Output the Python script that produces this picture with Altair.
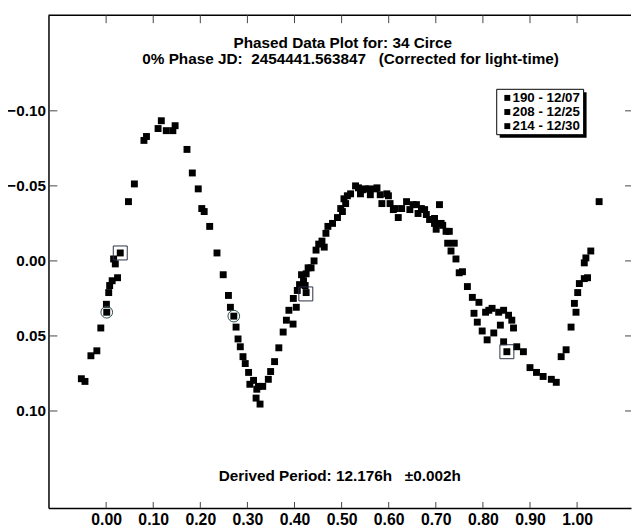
import altair as alt
import pandas as pd

# ---- data (phase, relative magnitude) ----
phase = [-0.0526, -0.0449, -0.0323, -0.0197, -0.0113, 0.0006, 0.0013, 0.0055, 0.0075, 0.0128,
         0.0243, 0.0195, 0.0159, 0.0300, 0.0474, 0.0600, 0.0803, 0.0857, 0.1103, 0.1172,
         0.1277, 0.1417, 0.1465, 0.1717, 0.1830, 0.1956, 0.2031, 0.2082, 0.2199, 0.2354,
         0.2486, 0.2597, 0.2639, 0.2711, 0.2759, 0.2801, 0.2849, 0.2906, 0.2954, 0.3025,
         0.3052, 0.3130, 0.3199, 0.3235, 0.3325, 0.3184, 0.3268, 0.3444, 0.3493, 0.3577,
         0.3667, 0.3759, 0.3828, 0.3969, 0.3881, 0.4038, 0.3975, 0.4059, 0.4107, 0.4191,
         0.4226, 0.4247, 0.4149, 0.4247, 0.4289, 0.4352, 0.4415, 0.4457, 0.4514, 0.4631,
         0.4583, 0.4667, 0.4709, 0.4807, 0.4912, 0.4981, 0.5017, 0.5050, 0.5086, 0.5122,
         0.5191, 0.5296, 0.5358, 0.5400, 0.5442, 0.5505, 0.5574, 0.5610, 0.5715, 0.5751,
         0.5820, 0.5855, 0.5960, 0.5994, 0.6029, 0.6099, 0.6134, 0.6203, 0.6275, 0.6379,
         0.6449, 0.6518, 0.6589, 0.6623, 0.6694, 0.6763, 0.6799, 0.6868, 0.6973, 0.7078,
         0.6973, 0.7008, 0.7113, 0.7147, 0.7218, 0.7287, 0.7252, 0.7392, 0.7323, 0.7428,
         0.7497, 0.7566, 0.7671, 0.7776, 0.7916, 0.7811, 0.7881, 0.7985, 0.8090, 0.8057,
         0.8126, 0.8195, 0.8335, 0.8440, 0.8545, 0.8614, 0.8650, 0.8371, 0.8231, 0.8440,
         0.8509, 0.8719, 0.8860, 0.9000, 0.9138, 0.9279, 0.9453, 0.9558, 0.9662, 0.9767,
         0.9872, 0.9977, 0.9943, 1.0013, 1.0048, 1.0153, 1.0222, 1.0153, 1.0187, 1.0291,
         1.0468]
mag = [0.0785, 0.0803, 0.0632, 0.0599, 0.0447, 0.0289, 0.0342, 0.0211, 0.0164, 0.0132,
       0.0112, 0.0020, -0.0013, -0.0053, -0.0395, -0.0513, -0.0803, -0.0829, -0.0882, -0.0934,
       -0.0868, -0.0868, -0.0901, -0.0743, -0.0586, -0.0480, -0.0349, -0.0329, -0.0230, -0.0053,
       0.0092, 0.0230, 0.0309, 0.0368, 0.0441, 0.0520, 0.0572, 0.0638, 0.0684, 0.0743,
       0.0822, 0.0796, 0.0855, 0.0836, 0.0836, 0.0914, 0.0954, 0.0789, 0.0737, 0.0671,
       0.0579, 0.0474, 0.0395, 0.0421, 0.0329, 0.0309, 0.0250, 0.0197, 0.0158, 0.0132,
       0.0164, 0.0211, 0.0092, 0.0086, 0.0046, 0.0046, 0.0000, -0.0072, -0.0112, -0.0092,
       -0.0132, -0.0184, -0.0230, -0.0250, -0.0289, -0.0349, -0.0329, -0.0414, -0.0382, -0.0434,
       -0.0447, -0.0500, -0.0487, -0.0447, -0.0474, -0.0480, -0.0480, -0.0441, -0.0480, -0.0487,
       -0.0441, -0.0382, -0.0447, -0.0434, -0.0382, -0.0342, -0.0349, -0.0289, -0.0349, -0.0395,
       -0.0342, -0.0375, -0.0375, -0.0316, -0.0349, -0.0342, -0.0309, -0.0276, -0.0283, -0.0375,
       -0.0250, -0.0211, -0.0250, -0.0237, -0.0197, -0.0197, -0.0118, -0.0118, -0.0066, -0.0013,
       0.0079, 0.0072, 0.0171, 0.0243, 0.0276, 0.0349, 0.0408, 0.0467, 0.0526, 0.0342,
       0.0329, 0.0316, 0.0342, 0.0329, 0.0362, 0.0395, 0.0447, 0.0428, 0.0480, 0.0539,
       0.0605, 0.0572, 0.0605, 0.0711, 0.0743, 0.0770, 0.0789, 0.0809, 0.0638, 0.0592,
       0.0441, 0.0342, 0.0283, 0.0211, 0.0151, 0.0118, 0.0112, 0.0013, -0.0020, -0.0066,
       -0.0395]

# highlighted (open) markers
circ_phase = [0.0013, 0.2711]
circ_mag = [0.0342, 0.0368]
sq_phase = [0.0300, 0.4240, 0.8509]
sq_mag = [-0.0053, 0.0220, 0.0605]

x_ticks = [0.0, 0.1, 0.2, 0.3, 0.4, 0.5, 0.6, 0.7, 0.8, 0.9, 1.0]
y_ticks = [-0.10, -0.05, 0.0, 0.05, 0.10]
legend_labels = ["190 - 12/07", "208 - 12/25", "214 - 12/30"]

title1 = "Phased Data Plot for: 34 Circe"
title2 = "0% Phase JD:\u00a0\u00a02454441.563847\u00a0\u00a0\u00a0(Corrected for light-time)"
period_text = "Derived Period: 12.176h\u00a0\u00a0\u00a0\u00b10.002h"

FONT = "Liberation Sans"
W, H = 590, 499

xs = alt.Scale(domain=[-0.1224, 1.1145], nice=False, zero=False)
ys = alt.Scale(domain=[-0.1637, 0.1646], reverse=True, nice=False, zero=False)

df = pd.DataFrame({"phase": phase, "mag": mag})
df_c = pd.DataFrame({"phase": circ_phase, "mag": circ_mag})
df_s = pd.DataFrame({"phase": sq_phase, "mag": sq_mag})
df_xt = pd.DataFrame({"phase": x_ticks})
df_yt = pd.DataFrame({"mag": y_ticks})

x_axis = alt.Axis(values=x_ticks, format=".2f", ticks=False, grid=False,
                  domainColor="black", domainWidth=1.5, labelFont=FONT,
                  labelFontSize=16, labelFontWeight="bold", labelColor="black",
                  labelPadding=4, labelOverlap=False, title=None)
y_axis = alt.Axis(values=y_ticks, format=".2f", ticks=False, grid=False,
                  domainColor="black", domainWidth=1.5, labelFont=FONT,
                  labelFontSize=15.5, labelFontWeight="bold", labelColor="black",
                  labelPadding=3, labelOverlap=False, title=None)

X = alt.X("phase:Q", scale=xs, axis=x_axis)
Y = alt.Y("mag:Q", scale=ys, axis=y_axis)

points = alt.Chart(df).mark_square(size=49, color="black", opacity=1).encode(x=X, y=Y)

circles = alt.Chart(df_c).mark_point(shape="circle", size=140, filled=False,
                                      color="#2a4a4a", strokeWidth=1, opacity=1).encode(x=X, y=Y)
squares = alt.Chart(df_s).mark_point(shape="square", size=200, filled=False,
                                      color="#2b3045", strokeWidth=1, opacity=1).encode(x=X, y=Y)

tick_col = "#444444"
bottom_ticks = alt.Chart(df_xt).mark_rule(color=tick_col, strokeWidth=1).encode(
    x=X, y=alt.value(H), y2=alt.value(H - 6))
top_ticks = alt.Chart(df_xt).mark_rule(color=tick_col, strokeWidth=1).encode(
    x=X, y=alt.value(0), y2=alt.value(8))
left_ticks = alt.Chart(df_yt).mark_rule(color=tick_col, strokeWidth=1).encode(
    y=Y, x=alt.value(0), x2=alt.value(9))
right_ticks = alt.Chart(df_yt).mark_rule(color=tick_col, strokeWidth=1).encode(
    y=Y, x=alt.value(W - 6), x2=alt.value(W))
top_line = alt.Chart(pd.DataFrame({"a": [0]})).mark_rule(color="black", strokeWidth=1.5).encode(
    x=alt.value(0), x2=alt.value(W), y=alt.value(0))


def label(text, x, y, size=15.5, weight="bold", align="center"):
    return alt.Chart(pd.DataFrame({"t": [text]})).mark_text(
        font=FONT, fontSize=size, fontWeight=weight, color="black",
        align=align, baseline="middle").encode(
        text="t:N", x=alt.value(x), y=alt.value(y))


t1 = label(title1, 298, 28)
t2 = label(title2, 306, 44)
t3 = label(period_text, 295, 467)

# legend box with drop shadow
shadow = alt.Chart(pd.DataFrame({"a": [0]})).mark_rect(color="black").encode(
    x=alt.value(457), x2=alt.value(545), y=alt.value(78), y2=alt.value(124))
box = alt.Chart(pd.DataFrame({"a": [0]})).mark_rect(fill="white", stroke="black", strokeWidth=1).encode(
    x=alt.value(454), x2=alt.value(542), y=alt.value(75), y2=alt.value(121))

legend_layers = []
for i, lab in enumerate(legend_labels):
    yy = 83.7 + 14.3 * i
    legend_layers.append(
        alt.Chart(pd.DataFrame({"t": [lab]})).mark_square(size=36, color="black", opacity=1).encode(
            x=alt.value(464.7), y=alt.value(yy)))
    legend_layers.append(label(lab, 470, yy, size=13.5, weight="bold", align="left"))

chart = alt.layer(
    points, top_line, bottom_ticks, top_ticks, left_ticks, right_ticks,
    circles, squares, t1, t2, t3, shadow, box, *legend_layers
).properties(
    width=W, height=H,
    autosize=alt.AutoSizeParams(type="none"),
    padding={"left": 41, "top": 4, "right": 1, "bottom": 18},
    background="white",
).configure_view(stroke=None)

chart.save("out.html", embed_options={"renderer": "svg", "actions": False})
